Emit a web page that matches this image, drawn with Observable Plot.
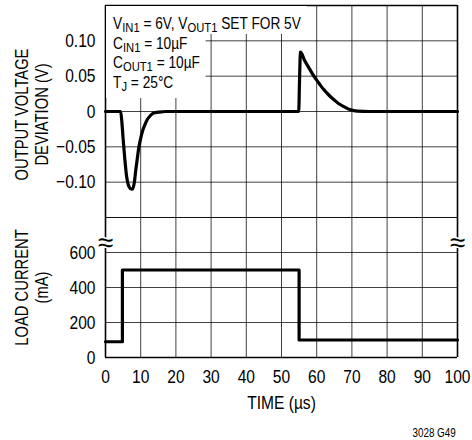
<!DOCTYPE html>
<html>
<head>
<meta charset="utf-8">
<script src="https://cdn.jsdelivr.net/npm/d3@7"></script>
<script src="https://cdn.jsdelivr.net/npm/@observablehq/plot@0.6"></script>
<style>
  html, body { margin: 0; padding: 0; background: #fff; }
  #chart { position: relative; width: 472px; height: 440px; overflow: hidden; background: #fff;
    font-family: "Liberation Sans", Arial, sans-serif; color: #000; }
  #chart svg { position: absolute; left: 0; overflow: visible; }
  #ann { position: absolute; left: 106px; top: 6px; font-size: 16.5px; line-height: 19.6px;
    display: flex; flex-direction: column; align-items: flex-start;
    transform: scaleX(0.83); transform-origin: 0 0; }
  #ann > div { background: #fff; white-space: nowrap; }
  #ann sub { font-size: 13.5px; vertical-align: -3px; line-height: 0; }
  #note { position: absolute; right: 16px; top: 428px; font-size: 12px; line-height: 11px;
    transform: scaleX(0.82); transform-origin: 100% 0; }
</style>
</head>
<body>
<div id="chart"></div>
<script>
// ---- data ----
const xDomain = [0, 100];
const xTicks = [0, 10, 20, 30, 40, 50, 60, 70, 80, 90, 100];

const vDomain = [-0.15, 0.15];
const vGrid = [-0.15, -0.10, -0.05, 0, 0.05, 0.10, 0.15];
const vTicks = [-0.10, -0.05, 0, 0.05, 0.10];
const vTickLabels = ["\u22120.10", "\u22120.05", "0", "0.05", "0.10"];

const iDomain = [0, 800];
const iGrid = [0, 200, 400, 600, 800];
const iTicks = [0, 200, 400, 600];

const timeUs = [0, 4.3, 4.6, 5.0, 5.5, 6.0, 6.5, 7.0, 7.6, 8.2, 8.6, 9.0, 9.5, 10.0, 10.5, 11.0, 11.8, 12.7, 13.7, 15, 17, 30, 40,
  54.9, 55.1, 55.4, 56.5, 58, 59.2, 60.5, 62, 63.5, 64.9, 66.3, 67.7, 69.6, 71.5, 75, 85, 100];
const deviationV = [0, 0, -0.012, -0.038, -0.068, -0.092, -0.104, -0.109, -0.11, -0.100, -0.083, -0.068, -0.05, -0.038, -0.028, -0.021, -0.012, -0.006, -0.002, -0.001, 0, 0, 0,
  0, 0.04, 0.084, 0.073, 0.06, 0.05, 0.041, 0.031, 0.023, 0.0167, 0.011, 0.007, 0.0024, 0.0005, 0, 0, 0];

const currentT = [0, 4.8, 55, 100];
const currentMA = [90, 500, 100, 100];

const breakX = [0, 100];
const topTitle = "OUTPUT VOLTAGE\nDEVIATION (V)";
const bottomTitle = "LOAD CURRENT\n(mA)";
const xTitle = "TIME (\u00b5s)";

// ---- build ----
const font = '"Liberation Sans", Arial, sans-serif';
const voltage = timeUs.map((t, i) => ({t, v: deviationV[i]}));
const current = currentT.map((t, i) => ({t, mA: currentMA[i]}));
const gridStyle = {stroke: "#000", strokeOpacity: 0.75, strokeWidth: 1};

const topPlot = Plot.plot({
  width: 472, height: 230,
  marginTop: 5, marginBottom: 13, marginLeft: 105, marginRight: 15,
  style: {background: "transparent", fontFamily: font, fontSize: "19px", overflow: "visible"},
  x: {domain: xDomain},
  y: {domain: vDomain},
  marks: [
    Plot.gridX(xTicks, gridStyle),
    Plot.gridY(vGrid, gridStyle),
    Plot.axisY(vTicks, {tickSize: 0, tickPadding: 10, tickFormat: (d) => vTickLabels[vTicks.indexOf(d)], label: null}),
    Plot.axisX([], {label: null}),
    Plot.ruleX(xDomain, {stroke: "#000", strokeWidth: 1.6}),
    Plot.ruleY([vDomain[1]], {stroke: "#000", strokeWidth: 1.6}),
    Plot.line(voltage, {x: "t", y: "v", stroke: "#000", strokeWidth: 3.2, curve: "monotone-x", strokeLinejoin: "round"}),
    Plot.text([topTitle], {frameAnchor: "left", textAnchor: "middle", rotate: -90, dx: -74, dy: 3, fontSize: 18, lineHeight: 1.1})
  ]
});
topPlot.style.top = "0px";

const bottomPlot = Plot.plot({
  width: 472, height: 240,
  marginTop: 17, marginBottom: 83, marginLeft: 105, marginRight: 15,
  style: {background: "transparent", fontFamily: font, fontSize: "19px", overflow: "visible"},
  x: {domain: xDomain},
  y: {domain: iDomain},
  marks: [
    Plot.gridX(xTicks, gridStyle),
    Plot.gridY(iGrid, gridStyle),
    Plot.axisY(iTicks, {tickSize: 0, tickPadding: 10, label: null}),
    Plot.axisX(xTicks, {tickSize: 0, tickPadding: 12, label: null}),
    Plot.ruleX(xDomain, {stroke: "#000", strokeWidth: 1.6}),
    Plot.ruleY([iDomain[0]], {stroke: "#000", strokeWidth: 1.6}),
    Plot.line(current, {x: "t", y: "mA", stroke: "#000", strokeWidth: 3.2, curve: "step-after"}),
    Plot.text(breakX, {x: (d) => d, frameAnchor: "top", dy: 15, text: () => "\u2248", fontSize: 28, stroke: "#fff", strokeWidth: 3, fill: "#000"}),
    Plot.text([bottomTitle], {frameAnchor: "left", textAnchor: "middle", rotate: -90, dx: -74, fontSize: 18, lineHeight: 1.1}),
    Plot.text([xTitle], {frameAnchor: "bottom", dy: 51, fontSize: 19})
  ]
});
bottomPlot.style.top = "200px";

// condense SVG text horizontally (narrow face not installed)
for (const svg of [topPlot, bottomPlot]) {
  for (const t of svg.querySelectorAll("text")) {
    const k = t.textContent === "\u2248" ? 1 : 0.82;
    const tr = t.getAttribute("transform");
    if (tr) {
      t.setAttribute("transform", tr + ` scale(${k},1)`);
    } else {
      const x = +(t.getAttribute("x") || 0), y = +(t.getAttribute("y") || 0);
      t.removeAttribute("x"); t.removeAttribute("y");
      t.setAttribute("transform", `translate(${x},${y}) scale(${k},1)`);
    }
  }
}

const chart = document.getElementById("chart");
chart.appendChild(topPlot);
chart.appendChild(bottomPlot);

const ann = document.createElement("div");
ann.id = "ann";
ann.innerHTML =
  '<div style="padding:8px 7px 0 8.5px">V<sub>IN1</sub> = 6V, V<sub>OUT1</sub> SET FOR 5V</div>' +
  '<div style="padding:0 7px 6px 8.5px">C<sub>IN1</sub> = 10\u00b5F<br>C<sub>OUT1</sub> = 10\u00b5F<br>T<sub>J</sub> = 25\u00b0C</div>';
chart.appendChild(ann);

const note = document.createElement("div");
note.id = "note";
note.textContent = "3028 G49";
chart.appendChild(note);
</script>
</body>
</html>
